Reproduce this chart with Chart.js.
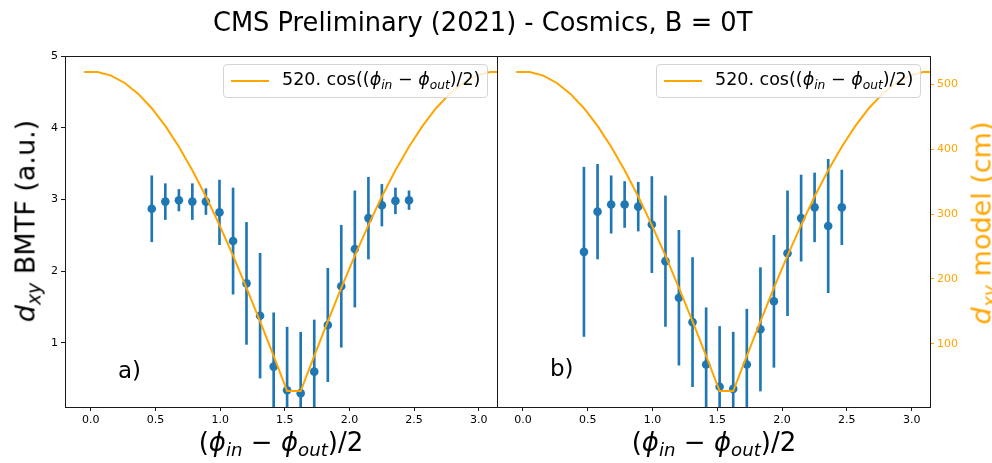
<!DOCTYPE html>
<html>
<head>
<meta charset="utf-8">
<script src="https://cdn.jsdelivr.net/npm/chart.js@4"></script>
<style>
  body { margin: 0; background: #fff; }
  #fig { position: relative; width: 992px; height: 463px; font-family: 'DejaVu Sans', sans-serif; color: #000; overflow: hidden; }
  canvas { position: absolute; top: 0; }
  .txt { position: absolute; white-space: nowrap; line-height: 1; }
  .title { left: 213px; top: 10px; font-size: 25.7px; }
  .xlab { top: 429px; font-size: 26px; transform: translateX(-50%); }
  .ylab { font-size: 27px; transform: translate(-50%, -50%) rotate(-90deg); }
  .panel { font-size: 23px; }
  .legend { position: absolute; top: 64px; width: 263px; height: 32px; background: rgba(255,255,255,0.8);
            border: 1px solid #d5d5d5; border-radius: 4px; font-size: 17.5px; }
  .legend .swatch { position: absolute; left: 7px; top: 15px; width: 38px; height: 2px; background: #FFA500; }
  .legend .lbl { position: absolute; left: 58px; top: 6px; line-height: 1; white-space: nowrap; }
  sub { font-size: 0.7em; vertical-align: -0.3em; line-height: 0; }
  i { font-style: italic; }
</style>
</head>
<body>
<div id="fig">
  <canvas id="left" width="498" height="463" style="left:0"></canvas>
  <canvas id="right" width="495" height="463" style="left:497px"></canvas>

  <div class="txt title">CMS Preliminary (2021) - Cosmics, B = 0T</div>
  <div class="txt xlab" style="left:281px">(<i>ϕ</i><sub><i>in</i></sub> − <i>ϕ</i><sub><i>out</i></sub>)/2</div>
  <div class="txt xlab" style="left:714px">(<i>ϕ</i><sub><i>in</i></sub> − <i>ϕ</i><sub><i>out</i></sub>)/2</div>
  <div class="txt ylab" style="left:25px; top:221px"><i>d</i><sub><i>xy</i></sub> BMTF (a.u.)</div>
  <div class="txt ylab" style="left:981px; top:223px; color:#FFA500"><i>d</i><sub><i>xy</i></sub> model (cm)</div>
  <div class="txt panel" style="left:118px; top:359px">a)</div>
  <div class="txt panel" style="left:550px; top:357px">b)</div>

  <div class="legend" style="left:223px"><div class="swatch"></div>
    <div class="lbl">520. cos((<i>ϕ</i><sub><i>in</i></sub> − <i>ϕ</i><sub><i>out</i></sub>)/2)</div></div>
  <div class="legend" style="left:656px"><div class="swatch"></div>
    <div class="lbl">520. cos((<i>ϕ</i><sub><i>in</i></sub> − <i>ϕ</i><sub><i>out</i></sub>)/2)</div></div>
</div>

<script>
// bin centres of (phi_in - phi_out)/2
const xBins = [0.471, 0.576, 0.681, 0.785, 0.890, 0.995, 1.100, 1.204, 1.309, 1.414,
               1.518, 1.623, 1.728, 1.833, 1.937, 2.042, 2.147, 2.251, 2.356, 2.461];

// panel a)
const aVals = [2.87, 2.97, 2.99, 2.97, 2.97, 2.82, 2.42, 1.83, 1.38, 0.67,
               0.34, 0.30, 0.60, 1.25, 1.79, 2.31, 2.74, 2.92, 2.98, 2.99];
const aErrs = [0.46, 0.25, 0.15, 0.25, 0.18, 0.45, 0.74, 0.85, 0.87, 0.75,
               0.88, 0.85, 0.72, 0.79, 0.85, 0.81, 0.57, 0.29, 0.18, 0.13];

// panel b)
const bVals = [2.27, 2.83, 2.93, 2.93, 2.90, 2.65, 2.14, 1.63, 1.29, 0.70,
               0.39, 0.36, 0.70, 1.19, 1.58, 2.25, 2.74, 2.89, 2.63, 2.89];
const bErrs = [1.18, 0.66, 0.40, 0.32, 0.34, 0.67, 0.91, 0.94, 0.90, 0.79,
               0.84, 0.79, 0.77, 0.86, 0.92, 0.87, 0.60, 0.48, 0.93, 0.52];

// model curve (cm), right axis
const curveX = [-0.052, 0.052, 0.157, 0.262, 0.367, 0.471, 0.576, 0.681, 0.785, 0.890, 0.995,
                1.100, 1.204, 1.309, 1.414, 1.518, 1.623, 1.728, 1.833, 1.937, 2.042, 2.147,
                2.251, 2.356, 2.461, 2.566, 2.670, 2.775, 2.880, 2.985, 3.089, 3.194];
const curveY = [519.3, 519.3, 513.6, 502.3, 485.5, 463.3, 436.1, 404.1, 367.7, 327.2, 283.2,
                236.1, 186.4, 134.6, 81.3, 27.2, 27.2, 81.3, 134.6, 186.4, 236.1, 283.2,
                327.2, 367.7, 404.1, 436.1, 463.3, 485.5, 502.3, 513.6, 519.3, 519.3];

const xTicks = [0, 0.5, 1, 1.5, 2, 2.5, 3];
const yTicks = [1, 2, 3, 4, 5];
const y2Ticks = [100, 200, 300, 400, 500];

const BLUE = '#1f77b4';
const ORANGE = '#FFA500';

Chart.defaults.font.family = "'DejaVu Sans', sans-serif";
Chart.defaults.font.size = 11;
Chart.defaults.color = '#000';

// black box round the axes, like matplotlib spines
const framePlugin = {
  id: 'frame',
  afterDatasetsDraw(chart) {
    const { ctx, chartArea: a } = chart;
    ctx.save();
    ctx.strokeStyle = '#1a1a1a';
    ctx.lineWidth = 1;
    ctx.strokeRect(Math.round(a.left) + 0.5, Math.round(a.top) + 0.5,
                   Math.round(a.right - a.left), Math.round(a.bottom - a.top));
    ctx.restore();
  }
};

function setTicks(list) {
  return scale => { scale.ticks = list.map(v => ({ value: v })); };
}

function makePanel(id, vals, errs, isLeft) {
  const bars = xBins.map((x, i) => ({ x, y: [vals[i] - errs[i], vals[i] + errs[i]] }));
  const pts = xBins.map((x, i) => ({ x, y: vals[i] }));
  const curve = curveX.map((x, i) => ({ x, y: curveY[i] }));
  const tickGrid = color => ({ drawOnChartArea: false, drawTicks: true, tickLength: 4, color, offset: false });

  return new Chart(document.getElementById(id), {
    type: 'scatter',
    data: {
      datasets: [
        { type: 'line', data: curve, yAxisID: 'y2', borderColor: ORANGE, borderWidth: 2,
          pointRadius: 0, tension: 0, fill: false, order: 0 },
        { type: 'scatter', data: pts, yAxisID: 'y', backgroundColor: BLUE, borderWidth: 0,
          pointRadius: 4.3, order: 1 },
        { type: 'bar', data: bars, yAxisID: 'y', backgroundColor: BLUE, barThickness: 2,
          borderWidth: 0, grouped: false, order: 2 },
      ],
    },
    options: {
      responsive: false,
      animation: false,
      events: [],
      layout: { autoPadding: false, padding: { top: 56, right: isLeft ? 1 : 0, left: 0, bottom: 0 } },
      plugins: { legend: { display: false }, tooltip: { enabled: false } },
      scales: {
        x: {
          type: 'linear', min: -0.2, max: Math.PI, offset: false,
          afterBuildTicks: setTicks(xTicks),
          afterFit: s => { s.height = 56; },
          ticks: { padding: 3, maxRotation: 0, autoSkip: false, callback: v => v.toFixed(1) },
          grid: tickGrid('#1a1a1a'),
          border: { display: false },
        },
        y: {
          type: 'linear', position: 'left', min: 0.107, max: 5, display: isLeft,
          afterBuildTicks: setTicks(yTicks),
          afterFit: s => { if (isLeft) s.width = 65; },
          ticks: { padding: 3 },
          grid: tickGrid('#1a1a1a'),
          border: { display: false },
        },
        y2: {
          type: 'linear', position: 'right', min: 2.6, max: 543.9, display: !isLeft,
          afterBuildTicks: setTicks(y2Ticks),
          afterFit: s => { if (!isLeft) s.width = 62; },
          ticks: { padding: 3, color: ORANGE },
          grid: tickGrid(ORANGE),
          border: { display: false },
        },
      },
    },
    plugins: [framePlugin],
  });
}

makePanel('left', aVals, aErrs, true);
makePanel('right', bVals, bErrs, false);
</script>
</body>
</html>
